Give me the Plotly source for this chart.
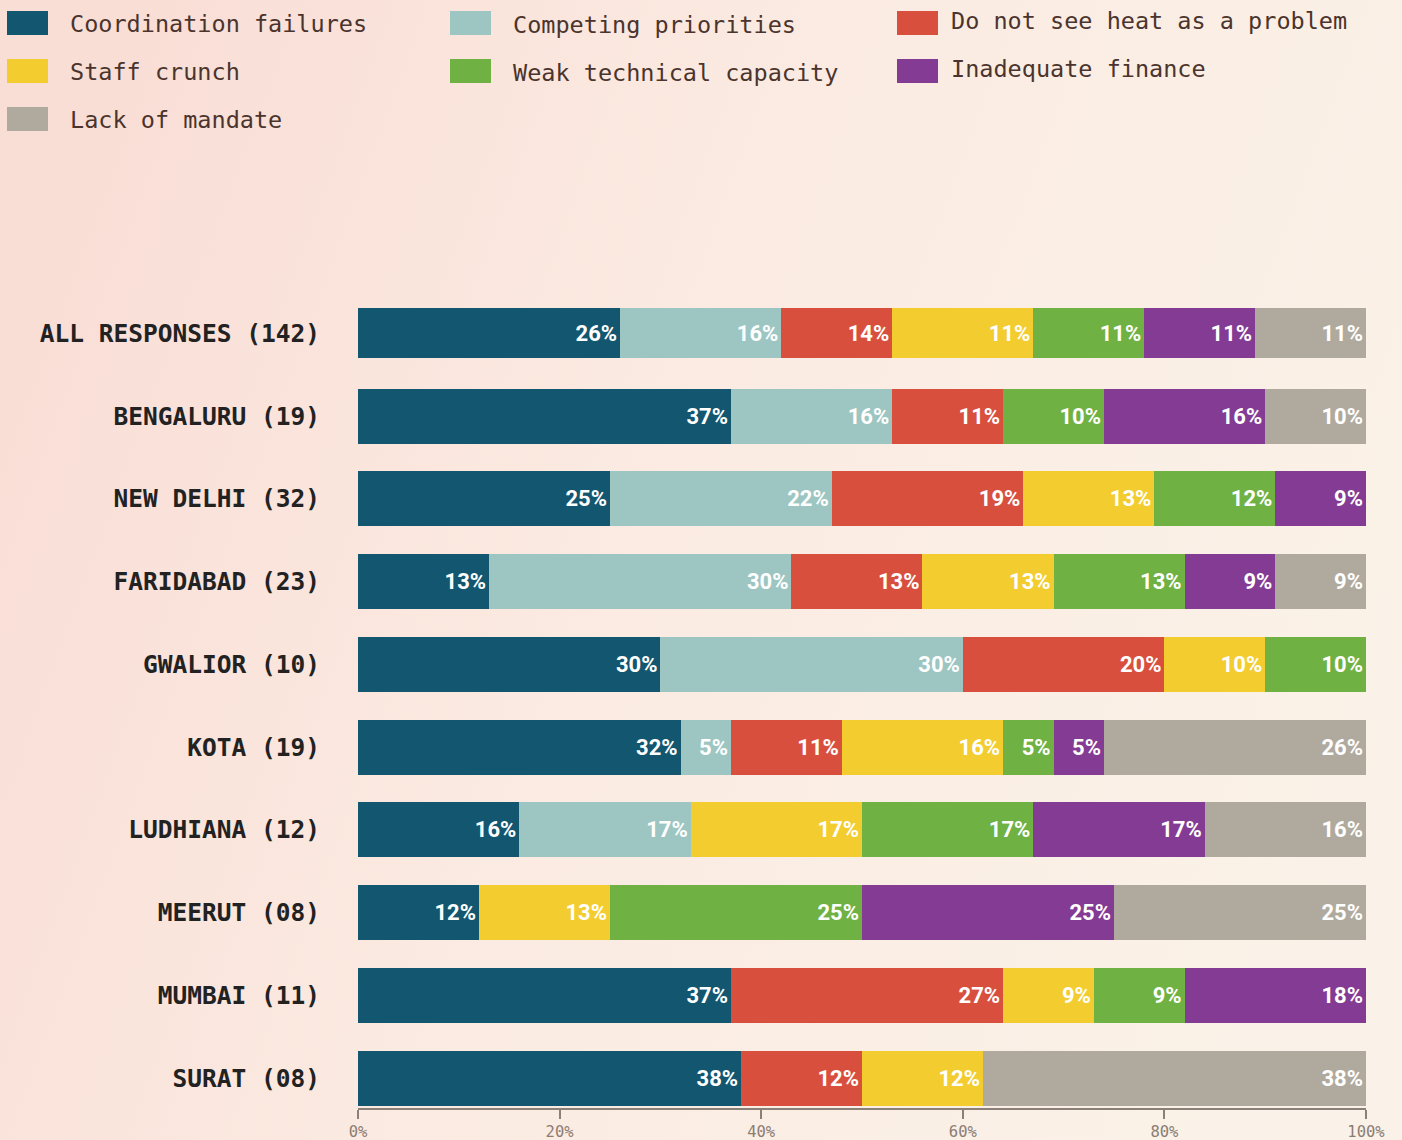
import base64
import plotly.graph_objects as go

# ---------------- data ----------------
categories = [
    "ALL RESPONSES (142)", "BENGALURU (19)", "NEW DELHI (32)", "FARIDABAD (23)",
    "GWALIOR (10)", "KOTA (19)", "LUDHIANA (12)", "MEERUT (08)", "MUMBAI (11)", "SURAT (08)",
]
series_names = [
    "Coordination failures", "Competing priorities", "Do not see heat as a problem",
    "Staff crunch", "Weak technical capacity", "Inadequate finance", "Lack of mandate",
]
coordination = [26, 37, 25, 13, 30, 32, 16, 12, 37, 38]
competing    = [16, 16, 22, 30, 30, 5, 17, 0, 0, 0]
not_problem  = [11, 11, 19, 13, 20, 11, 0, 0, 27, 12]
staff        = [14, 0, 13, 13, 10, 16, 17, 13, 9, 12]
weak_tech    = [11, 10, 12, 13, 10, 5, 17, 25, 9, 0]
finance      = [11, 16, 9, 9, 0, 5, 17, 25, 18, 0]
mandate      = [11, 10, 0, 9, 0, 26, 16, 25, 0, 38]
series_values = [coordination, competing, not_problem, staff, weak_tech, finance, mandate]
# labels as printed on the "ALL RESPONSES" row (in series order)
all_row_printed = [26, 16, 14, 11, 11, 11, 11]
x_ticks = [0, 20, 40, 60, 80, 100]

colors = ["#135670", "#9dc6c2", "#d94f3e", "#f3cd2f", "#6fb143", "#833b93", "#b0aa9e"]

# ---------------- geometry helpers ----------------
W, H = 1402, 1140
L, R, T, B = 358, 36, 296, 32
pw, ph = W - L - R, H - T - B
def px2x(p): return (p - L) / pw
def py2y(p): return (H - B - p) / ph

fig = go.Figure()
bar_widths = [0.61] + [0.665] * (len(categories) - 1)
for si, (name, vals, col) in enumerate(zip(series_names, series_values, colors)):
    texts = []
    for ci, v in enumerate(vals):
        shown = all_row_printed[si] if ci == 0 else v
        texts.append(f"{shown}%" if v > 0 else "")
    fig.add_trace(go.Bar(
        y=categories, x=vals, orientation="h", name=name,
        marker=dict(color=col, line=dict(width=0)),
        width=bar_widths,
        text=texts, textposition="inside", insidetextanchor="end",
        textangle=0, constraintext="none",
        textfont=dict(family="Roboto", size=22, color="white", weight="bold"),
        hoverinfo="skip", showlegend=False,
    ))

# ---------------- custom legend ----------------
swatch_x = [7, 450, 897]
text_x = [68, 511, 949]
row_y = [23, 71, 119]
text_dy = [1, 2, -2]
shapes, annotations = [], []
for i, (name, col) in enumerate(zip(series_names, colors)):
    r, c = divmod(i, 3)
    sx, ty = swatch_x[c], row_y[r]
    shapes.append(dict(type="rect", xref="paper", yref="paper",
                       x0=px2x(sx), x1=px2x(sx + 41), y0=py2y(ty - 12), y1=py2y(ty + 12),
                       fillcolor=col, line=dict(width=0)))
    annotations.append(dict(xref="paper", yref="paper", x=px2x(text_x[c]), y=py2y(ty + text_dy[c]),
                            xanchor="left", yanchor="middle", showarrow=False,
                            text=name, font=dict(family="DejaVu Sans Mono", size=23.5, color="#4b342d")))

svg = ('<svg xmlns="http://www.w3.org/2000/svg" width="1402" height="1140" preserveAspectRatio="none">'
       '<defs><linearGradient id="g" x1="0" y1="0.35" x2="1" y2="0.65">'
       '<stop offset="0" stop-color="#f9ded6"/><stop offset="0.45" stop-color="#fbebe2"/>'
       '<stop offset="1" stop-color="#faf2e8"/></linearGradient></defs>'
       '<rect width="1402" height="1140" fill="url(#g)"/></svg>')
src = "data:image/svg+xml;base64," + base64.b64encode(svg.encode()).decode()

fig.update_layout(
    width=W, height=H, barmode="stack",
    margin=dict(l=L, r=R, t=T, b=B),
    paper_bgcolor="#fbede4", plot_bgcolor="rgba(0,0,0,0)",
    images=[dict(source=src, xref="paper", yref="paper", x=px2x(0), y=py2y(0),
                 sizex=W / pw, sizey=H / ph, sizing="stretch", xanchor="left",
                 yanchor="top", layer="below")],
    shapes=shapes, annotations=annotations,
    bargap=0.3,
    xaxis=dict(range=[0, 100], tickvals=x_ticks, ticktext=[f"{v}%" for v in x_ticks],
               showgrid=False, zeroline=False, showline=True, linecolor="#8a8078", linewidth=1.5,
               ticks="outside", ticklen=9, tickcolor="#8a8078", tickwidth=1.5,
               tickfont=dict(family="DejaVu Sans Mono", size=15.5, color="#8b7d74"),
               fixedrange=True, automargin=False),
    yaxis=dict(categoryorder="array", categoryarray=categories, range=[9.36, -0.45],
               showgrid=False, zeroline=False, showline=False,
               ticks="outside", ticklen=32, tickcolor="rgba(0,0,0,0)",
               tickfont=dict(family="DejaVu Sans Mono", size=24.5, color="#222222", weight="bold"),
               fixedrange=True, automargin=False),
    font=dict(family="DejaVu Sans Mono"),
)

fig.write_html(
    "out.html",
    config={"displayModeBar": False},
    post_script="document.body.style.margin='0';document.body.style.overflow='hidden';",
)
